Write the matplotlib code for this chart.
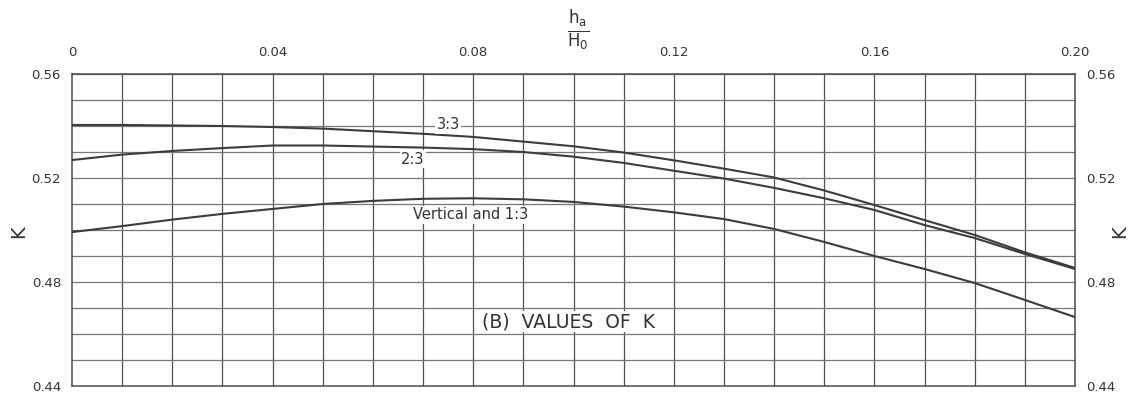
import matplotlib.pyplot as plt
import numpy as np

# h_a / H_0 ratio
ratio = [0.00, 0.01, 0.02, 0.03, 0.04, 0.05, 0.06, 0.07, 0.08, 0.09, 0.10,
         0.11, 0.12, 0.13, 0.14, 0.15, 0.16, 0.17, 0.18, 0.19, 0.20]

# K for each slope of the upstream face
k_33 = [0.5404, 0.5404, 0.5402, 0.5400, 0.5396, 0.5390, 0.5380, 0.5370, 0.5358,
        0.5340, 0.5322, 0.5298, 0.5268, 0.5236, 0.5202, 0.5152, 0.5096,
        0.5038, 0.4981, 0.4914, 0.4854]
k_23 = [0.5269, 0.5290, 0.5304, 0.5315, 0.5325, 0.5325, 0.5321, 0.5317, 0.5311,
        0.5300, 0.5282, 0.5258, 0.5228, 0.5198, 0.5162, 0.5122, 0.5077,
        0.5019, 0.4969, 0.4908, 0.4850]
k_v13 = [0.4992, 0.5015, 0.5040, 0.5062, 0.5081, 0.5100, 0.5112, 0.5120, 0.5122,
         0.5118, 0.5108, 0.5090, 0.5068, 0.5042, 0.5004, 0.4954, 0.4900,
         0.4850, 0.4796, 0.4731, 0.4665]

x_ticks = [0, 0.04, 0.08, 0.12, 0.16, 0.20]
x_labels = ['0', '0.04', '0.08', '0.12', '0.16', '0.20']
y_ticks = [0.44, 0.48, 0.52, 0.56]
y_labels = ['0.44', '0.48', '0.52', '0.56']

fig = plt.figure(figsize=(11.34, 3.94), dpi=100)
ax = fig.add_axes([72 / 1134, 8 / 394, 1003 / 1134, 312 / 394])

ax.set_xlim(0, 0.20)
ax.set_ylim(0.44, 0.56)

# fine grid: 0.01 in both directions
for xv in np.arange(0.01, 0.20, 0.01):
    ax.axvline(xv, color='#505050', lw=0.9, zorder=1)
for yv in np.arange(0.45, 0.56, 0.01):
    ax.axhline(yv, color='#777782', lw=0.9, zorder=1)

for s in ax.spines.values():
    s.set_color('#4a4a4a')
    s.set_linewidth(1.1)

line_kw = dict(color='#3c3c3c', lw=1.5, zorder=3)
ax.plot(ratio, k_33, **line_kw)
ax.plot(ratio, k_23, **line_kw)
ax.plot(ratio, k_v13, **line_kw)

lab_kw = dict(fontsize=10.5, color='#333333', zorder=4, ha='center', va='center',
              bbox=dict(facecolor='white', edgecolor='none', pad=1))
ax.text(0.0750, 0.5405, '3:3', **lab_kw)
ax.text(0.068, 0.5272, '2:3', **lab_kw)
ax.text(0.0795, 0.5058, 'Vertical and 1:3', **lab_kw)
ax.text(0.099, 0.4648, '(B)  VALUES  OF  K', fontsize=13.5, color='#333333',
        ha='center', va='center', zorder=4,
        bbox=dict(facecolor='white', edgecolor='none', pad=1))

# ticks: x on top, y on both sides, no tick marks
ax.xaxis.tick_top()
ax.set_xticks(x_ticks)
ax.set_xticklabels(x_labels)
ax.set_yticks(y_ticks)
ax.set_yticklabels(y_labels)
ax.tick_params(axis='x', length=0, pad=11, labelsize=9.5, labelcolor='#333333')
ax.tick_params(axis='y', length=0, pad=8, labelsize=9.5, labelcolor='#333333',
               labelright=True, right=False)

fig.text(19 / 1134, 1 - 232 / 394, 'K', rotation=90, fontsize=14,
         ha='center', va='center', color='#333333')
fig.text(1120 / 1134, 1 - 232 / 394, 'K', rotation=90, fontsize=14,
         ha='center', va='center', color='#333333')
fig.text(578 / 1134, 1 - 31 / 394, r'$\mathregular{\frac{h_a}{H_0}}$', fontsize=17,
         ha='center', va='center', color='#333333')

fig.savefig('out.png', dpi=100)
